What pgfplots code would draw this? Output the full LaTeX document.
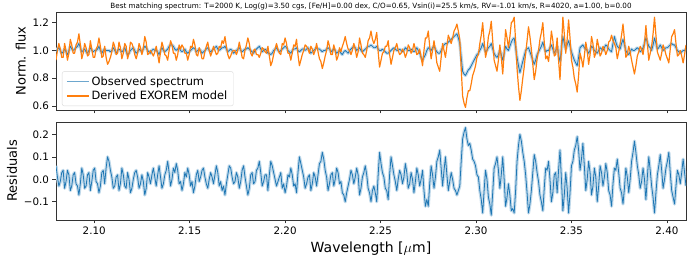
\documentclass[border=0pt]{standalone}
\usepackage{pgfplots}
\usepackage{pgfplotstable}
\pgfplotsset{compat=1.18}
\usepackage{fontspec}
\setmainfont{DejaVu Sans}
\definecolor{C0}{RGB}{31,119,180}
\definecolor{C1}{RGB}{255,127,14}
\pgfplotstableread{
x o r m
2.08000 0.99 0.06 0.93
2.08075 1.01 0.01 1.00
2.08150 1.02 -0.03 1.05
2.08225 1.00 -0.01 1.01
2.08300 0.98 0.03 0.95
2.08375 0.99 0.04 0.95
2.08450 1.01 -0.04 1.05
2.08525 0.99 -0.01 1.00
2.08600 0.97 0.04 0.93
2.08675 1.00 0.02 0.98
2.08750 1.03 -0.05 1.08
2.08825 1.01 -0.03 1.04
2.08900 1.00 0.02 0.98
2.08975 1.01 0.03 0.98
2.09050 1.02 -0.02 1.04
2.09125 1.03 -0.03 1.06
2.09200 1.05 -0.07 1.12
2.09275 1.02 -0.02 1.04
2.09350 0.99 0.05 0.94
2.09425 1.00 0.02 0.98
2.09500 1.01 -0.04 1.05
2.09575 0.99 -0.03 1.02
2.09650 0.98 0.02 0.96
2.09725 1.00 0.03 0.97
2.09800 1.02 -0.05 1.07
2.09875 1.00 -0.01 1.01
2.09950 0.99 0.04 0.95
2.10025 1.00 0.05 0.95
2.10100 1.00 -0.01 1.01
2.10175 1.01 -0.02 1.03
2.10250 1.03 -0.06 1.09
2.10325 1.00 -0.03 1.03
2.10400 0.98 0.03 0.95
2.10475 1.00 0.04 0.96
2.10550 1.01 -0.02 1.03
2.10625 1.00 0.05 0.95
2.10700 1.00 0.10 0.90
2.10775 1.00 0.08 0.92
2.10850 0.99 0.04 0.95
2.10925 1.00 0.01 0.99
2.11000 1.02 -0.04 1.06
2.11075 1.00 -0.03 1.03
2.11150 0.98 0.01 0.97
2.11225 1.00 0.02 0.98
2.11300 1.01 -0.05 1.06
2.11375 1.00 -0.02 1.02
2.11450 0.99 0.05 0.94
2.11525 1.00 0.02 0.98
2.11600 1.02 -0.03 1.05
2.11675 0.99 -0.04 1.03
2.11750 0.97 0.03 0.94
2.11825 0.98 0.00 0.98
2.11900 1.00 -0.06 1.06
2.11975 1.01 -0.04 1.05
2.12050 1.02 0.00 1.02
2.12125 1.00 0.03 0.97
2.12200 0.98 0.04 0.94
2.12275 0.99 0.01 0.98
2.12350 1.01 -0.04 1.05
2.12425 1.00 -0.02 1.02
2.12500 0.99 0.02 0.97
2.12575 1.01 -0.01 1.02
2.12650 1.03 -0.07 1.10
2.12725 1.02 -0.04 1.06
2.12800 1.00 0.03 0.97
2.12875 0.99 0.01 0.98
2.12950 0.98 -0.02 1.00
2.13025 1.00 0.02 0.98
2.13100 1.01 0.05 0.96
2.13175 1.00 0.01 0.99
2.13250 1.00 -0.03 1.03
2.13325 0.99 0.02 0.97
2.13400 0.97 0.06 0.91
2.13475 1.00 0.01 0.99
2.13550 1.02 -0.04 1.06
2.13625 1.00 -0.02 1.02
2.13700 0.99 0.02 0.97
2.13775 1.00 0.04 0.96
2.13850 1.01 0.08 0.93
2.13925 1.03 0.03 1.00
2.14000 1.04 -0.03 1.07
2.14075 1.04 0.00 1.04
2.14150 1.03 0.05 0.98
2.14225 1.01 0.03 0.98
2.14300 1.00 0.07 0.93
2.14375 1.01 0.04 0.97
2.14450 1.02 -0.02 1.04
2.14525 1.00 -0.01 1.01
2.14600 0.99 -0.05 1.04
2.14675 1.00 -0.02 1.02
2.14750 1.01 0.03 0.98
2.14825 0.99 0.01 0.98
2.14900 0.98 0.05 0.93
2.14975 0.99 0.02 0.97
2.15050 1.00 -0.03 1.03
2.15125 1.01 -0.01 1.02
2.15200 1.02 -0.06 1.08
2.15275 1.01 -0.03 1.04
2.15350 0.99 0.02 0.97
2.15425 1.00 0.04 0.96
2.15500 1.01 -0.01 1.02
2.15575 1.00 0.01 0.99
2.15650 0.98 0.04 0.94
2.15725 0.99 0.05 0.94
2.15800 1.00 0.01 0.99
2.15875 1.01 -0.02 1.03
2.15950 1.02 -0.04 1.06
2.16025 1.00 0.00 1.00
2.16100 0.99 0.03 0.96
2.16175 1.00 0.01 0.99
2.16250 1.01 -0.02 1.03
2.16325 1.02 0.02 1.00
2.16400 1.03 0.06 0.97
2.16475 1.01 0.03 0.98
2.16550 1.00 -0.03 1.03
2.16625 1.01 -0.01 1.02
2.16700 1.02 -0.05 1.07
2.16775 1.02 -0.03 1.05
2.16850 1.03 -0.07 1.10
2.16925 1.01 -0.02 1.03
2.17000 0.99 0.02 0.97
2.17075 1.00 0.06 0.94
2.17150 1.01 0.05 0.96
2.17225 1.00 0.01 0.99
2.17300 0.98 -0.02 1.00
2.17375 0.99 -0.01 1.00
2.17450 1.00 0.03 0.97
2.17525 1.01 0.01 1.00
2.17600 1.02 -0.04 1.06
2.17675 1.00 -0.01 1.01
2.17750 0.99 0.04 0.95
2.17825 1.00 0.06 0.94
2.17900 1.01 0.01 1.00
2.17975 1.01 -0.03 1.04
2.18050 1.02 -0.07 1.09
2.18125 1.01 -0.04 1.05
2.18200 1.00 0.02 0.98
2.18275 0.99 0.03 0.96
2.18350 0.98 -0.02 1.00
2.18425 1.00 -0.01 1.01
2.18500 1.01 0.04 0.97
2.18575 1.02 0.05 0.97
2.18650 1.03 0.08 0.95
2.18725 1.01 0.03 0.98
2.18800 0.99 -0.03 1.02
2.18875 1.00 -0.01 1.01
2.18950 1.01 0.02 0.99
2.19025 1.00 0.02 0.98
2.19100 0.98 -0.05 1.03
2.19175 0.98 0.02 0.96
2.19250 0.97 0.08 0.89
2.19325 0.98 0.06 0.92
2.19400 1.00 0.03 0.97
2.19475 1.01 0.00 1.01
2.19550 1.02 -0.03 1.05
2.19625 1.00 -0.01 1.01
2.19700 0.99 0.01 0.98
2.19775 1.00 0.03 0.97
2.19850 1.01 -0.04 1.05
2.19925 1.02 -0.02 1.04
2.20000 1.03 -0.06 1.09
2.20075 1.02 -0.03 1.05
2.20150 1.00 0.02 0.98
2.20225 0.99 0.01 0.98
2.20300 0.98 0.05 0.93
2.20375 1.00 0.02 0.98
2.20450 1.01 -0.03 1.04
2.20525 1.01 -0.02 1.03
2.20600 1.02 -0.06 1.08
2.20675 1.00 0.03 0.97
2.20750 0.99 0.10 0.89
2.20825 1.00 0.07 0.93
2.20900 1.01 0.04 0.97
2.20975 1.01 0.01 1.00
2.21050 1.00 -0.04 1.04
2.21125 1.01 -0.02 1.03
2.21200 1.02 0.01 1.01
2.21275 1.00 0.02 0.98
2.21350 0.98 -0.05 1.03
2.21425 0.99 -0.02 1.01
2.21500 1.00 0.03 0.97
2.21575 1.01 0.01 1.00
2.21650 1.02 -0.03 1.05
2.21725 1.01 0.02 0.99
2.21800 1.01 0.07 0.94
2.21875 1.00 0.08 0.92
2.21950 0.99 0.12 0.87
2.22025 1.00 0.09 0.91
2.22100 1.00 0.04 0.96
2.22175 1.01 0.01 1.00
2.22250 1.02 -0.05 1.07
2.22325 1.01 -0.02 1.03
2.22400 0.99 0.02 0.97
2.22475 1.00 0.03 0.97
2.22550 1.01 -0.03 1.04
2.22625 1.00 0.00 1.00
2.22700 0.98 0.05 0.93
2.22775 0.99 0.03 0.96
2.22850 1.00 -0.02 1.02
2.22925 0.98 -0.01 0.99
2.23000 0.97 -0.06 1.03
2.23075 0.99 -0.07 1.06
2.23150 1.00 -0.10 1.10
2.23225 0.99 -0.06 1.05
2.23300 0.98 -0.03 1.01
2.23375 1.00 0.00 1.00
2.23450 1.01 0.04 0.97
2.23525 1.02 0.02 1.00
2.23600 1.03 -0.02 1.05
2.23675 1.02 0.01 1.01
2.23750 1.00 0.05 0.95
2.23825 1.01 0.02 0.99
2.23900 1.02 -0.07 1.09
2.23975 1.00 -0.04 1.04
2.24050 0.99 0.01 0.98
2.24125 1.00 0.03 0.97
2.24200 1.01 0.06 0.95
2.24275 1.02 0.02 1.00
2.24350 1.03 -0.04 1.07
2.24425 1.03 -0.06 1.09
2.24500 1.04 -0.10 1.14
2.24575 1.03 -0.05 1.08
2.24650 1.02 -0.03 1.05
2.24725 1.02 -0.06 1.08
2.24800 1.03 -0.10 1.13
2.24875 1.01 0.02 0.99
2.24950 1.00 0.12 0.88
2.25025 1.00 0.07 0.93
2.25100 1.01 0.03 0.98
2.25175 1.00 0.01 0.99
2.25250 0.99 -0.04 1.03
2.25325 0.98 -0.05 1.03
2.25400 0.98 -0.09 1.07
2.25475 0.99 0.02 0.97
2.25550 1.00 0.10 0.90
2.25625 1.01 0.06 0.95
2.25700 1.02 0.02 1.00
2.25775 1.01 -0.01 1.02
2.25850 1.00 -0.05 1.05
2.25925 1.00 0.00 1.00
2.26000 1.01 0.04 0.97
2.26075 1.00 0.02 0.98
2.26150 0.99 -0.02 1.01
2.26225 1.00 0.01 0.99
2.26300 1.02 0.07 0.95
2.26375 1.01 0.03 0.98
2.26450 1.00 -0.04 1.04
2.26525 1.00 -0.02 1.02
2.26600 1.01 0.03 0.98
2.26675 1.00 0.00 1.00
2.26750 0.99 -0.06 1.05
2.26825 1.00 -0.01 1.01
2.26900 1.02 0.05 0.97
2.26975 1.00 0.02 0.98
2.27050 0.98 -0.03 1.01
2.27125 0.95 0.00 0.95
2.27200 0.93 0.04 0.89
2.27275 0.95 -0.05 1.00
2.27350 0.97 -0.12 1.09
2.27425 1.00 -0.09 1.09
2.27500 1.02 -0.12 1.14
2.27575 1.01 -0.02 1.03
2.27650 1.00 0.06 0.94
2.27725 1.02 0.02 1.00
2.27800 1.03 -0.04 1.07
2.27875 1.01 0.01 1.00
2.27950 0.99 0.08 0.91
2.28025 0.98 0.10 0.88
2.28100 0.98 0.13 0.85
2.28175 1.00 0.05 0.95
2.28250 1.02 -0.03 1.05
2.28325 1.04 0.04 1.00
2.28400 1.05 0.10 0.95
2.28475 1.05 0.02 1.03
2.28550 1.06 -0.05 1.11
2.28625 1.07 -0.01 1.08
2.28700 1.08 0.03 1.05
2.28775 1.09 0.00 1.09
2.28850 1.10 -0.04 1.14
2.28925 1.11 -0.05 1.16
2.29000 1.12 -0.07 1.19
2.29075 1.09 -0.05 1.14
2.29150 1.05 -0.03 1.08
2.29225 0.95 0.08 0.87
2.29300 0.85 0.18 0.67
2.29375 0.83 0.21 0.62
2.29450 0.82 0.23 0.59
2.29525 0.84 0.18 0.66
2.29600 0.86 0.15 0.71
2.29675 0.87 0.16 0.71
2.29750 0.89 0.13 0.76
2.29825 0.91 0.09 0.82
2.29900 0.93 0.08 0.85
2.29975 0.95 0.06 0.89
2.30050 0.97 0.02 0.95
2.30125 0.98 0.01 0.97
2.30200 1.00 -0.05 1.05
2.30275 1.02 -0.09 1.11
2.30350 1.05 -0.15 1.20
2.30425 1.02 -0.05 1.07
2.30500 0.99 0.04 0.95
2.30575 1.00 0.00 1.00
2.30650 1.02 -0.08 1.10
2.30725 1.03 -0.11 1.14
2.30800 1.05 -0.16 1.21
2.30875 1.01 -0.06 1.07
2.30950 0.98 0.05 0.93
2.31025 0.96 0.07 0.89
2.31100 0.95 0.10 0.85
2.31175 0.97 0.04 0.93
2.31250 1.00 -0.04 1.04
2.31325 0.97 0.02 0.95
2.31400 0.93 0.10 0.83
2.31475 0.98 0.00 0.98
2.31550 1.03 -0.12 1.15
2.31625 1.01 -0.08 1.09
2.31700 1.00 -0.02 1.02
2.31775 1.03 -0.07 1.10
2.31850 1.06 -0.14 1.20
2.31925 1.08 -0.13 1.21
2.32000 1.09 -0.15 1.24
2.32075 1.02 -0.05 1.07
2.32150 0.95 0.08 0.87
2.32225 0.89 0.15 0.74
2.32300 0.84 0.20 0.64
2.32375 0.88 0.17 0.71
2.32450 0.92 0.12 0.80
2.32525 0.96 0.08 0.88
2.32600 1.00 0.02 0.98
2.32675 1.01 -0.06 1.07
2.32750 1.02 -0.15 1.17
2.32825 0.99 -0.11 1.10
2.32900 0.96 -0.05 1.01
2.32975 0.93 0.03 0.90
2.33050 0.90 0.11 0.79
2.33125 0.93 0.08 0.85
2.33200 0.97 0.03 0.94
2.33275 0.99 -0.01 1.00
2.33350 1.01 -0.07 1.08
2.33425 1.03 -0.10 1.13
2.33500 1.06 -0.14 1.20
2.33575 1.02 -0.04 1.06
2.33650 0.99 0.05 0.94
2.33725 1.00 0.04 0.96
2.33800 1.00 0.08 0.92
2.33875 1.02 0.00 1.02
2.33950 1.04 -0.10 1.14
2.34025 1.01 -0.06 1.07
2.34100 0.98 0.02 0.96
2.34175 1.00 0.03 0.97
2.34250 1.03 -0.06 1.09
2.34325 0.97 0.04 0.93
2.34400 0.92 0.13 0.79
2.34475 1.01 0.00 1.01
2.34550 1.10 -0.14 1.24
2.34625 1.05 -0.07 1.12
2.34700 1.01 0.03 0.98
2.34775 1.04 -0.04 1.08
2.34850 1.07 -0.15 1.22
2.34925 1.03 -0.06 1.09
2.35000 0.99 0.06 0.93
2.35075 0.96 0.08 0.88
2.35150 0.93 0.13 0.80
2.35225 0.91 0.15 0.76
2.35300 0.89 0.19 0.70
2.35375 0.95 0.13 0.82
2.35450 1.02 0.04 0.98
2.35525 1.03 0.09 0.94
2.35600 1.04 0.16 0.88
2.35675 1.02 0.06 0.96
2.35750 1.01 -0.05 1.06
2.35825 1.00 0.00 1.00
2.35900 0.98 0.08 0.90
2.35975 1.00 0.03 0.97
2.36050 1.03 -0.07 1.10
2.36125 1.02 -0.03 1.05
2.36200 1.00 0.05 0.95
2.36275 0.99 0.01 0.98
2.36350 0.98 -0.10 1.08
2.36425 1.00 -0.03 1.03
2.36500 1.02 0.06 0.96
2.36575 1.01 0.03 0.98
2.36650 1.00 -0.03 1.03
2.36725 1.02 0.01 1.01
2.36800 1.04 0.07 0.97
2.36875 1.03 0.03 1.00
2.36950 1.01 -0.05 1.06
2.37025 1.00 -0.07 1.07
2.37100 0.99 -0.12 1.11
2.37175 1.05 -0.02 1.07
2.37250 1.10 0.05 1.05
2.37325 1.06 0.04 1.02
2.37400 1.03 0.09 0.94
2.37475 1.02 0.03 0.99
2.37550 1.01 -0.04 1.05
2.37625 1.05 -0.06 1.11
2.37700 1.08 -0.11 1.19
2.37775 1.04 -0.04 1.08
2.37850 1.00 0.05 0.95
2.37925 0.98 0.01 0.97
2.38000 0.97 -0.06 1.03
2.38075 0.99 0.00 0.99
2.38150 1.01 0.08 0.93
2.38225 1.00 0.12 0.88
2.38300 1.00 0.17 0.83
2.38375 1.01 0.12 0.89
2.38450 1.02 0.06 0.96
2.38525 1.01 0.02 0.99
2.38600 0.99 -0.04 1.03
2.38675 1.00 -0.01 1.01
2.38750 1.02 0.05 0.97
2.38825 1.05 0.00 1.05
2.38900 1.09 -0.09 1.18
2.38975 1.06 0.01 1.05
2.39050 1.03 0.10 0.93
2.39125 1.02 0.04 0.98
2.39200 1.00 -0.03 1.03
2.39275 1.04 -0.08 1.12
2.39350 1.09 -0.15 1.24
2.39425 1.05 -0.06 1.11
2.39500 1.01 0.02 0.99
2.39575 1.02 0.06 0.96
2.39650 1.04 0.11 0.93
2.39725 1.02 0.04 0.98
2.39800 1.00 -0.04 1.04
2.39875 1.01 0.00 1.01
2.39950 1.02 0.05 0.97
2.40025 1.02 0.08 0.94
2.40100 1.03 0.12 0.91
2.40175 1.04 0.03 1.01
2.40250 1.05 -0.05 1.10
2.40325 1.04 -0.08 1.12
2.40400 1.04 -0.11 1.15
2.40475 1.02 -0.03 1.05
2.40550 1.00 0.04 0.96
2.40625 0.99 0.02 0.97
2.40700 0.98 -0.02 1.00
2.40775 0.99 0.03 0.96
2.40850 1.00 0.09 0.91
2.40925 1.00 0.03 0.97
2.41000 1.01 -0.03 1.04
}\spec
\pgfplotsset{
  every axis/.append style={
    scale only axis, width=630pt, height=98pt,
    xmin=2.08, xmax=2.41,
    tick pos=left, tick align=outside,
    major tick length=3.5pt,
    every tick/.style={black!80, line width=0.6pt},
    axis line style={black!80, line width=0.6pt},
    tick label style={font=\fontsize{10.3}{12}\selectfont},
    label style={font=\fontsize{13}{15}\selectfont},
    xtick={2.10,2.15,2.20,2.25,2.30,2.35,2.40},
  },
}
\begin{document}
\begin{tikzpicture}
\path[use as bounding box] (0,0) rectangle (691pt,-261pt);
\begin{axis}[
  at={(56pt,-110pt)}, anchor=south west,
  ymin=0.571, ymax=1.277,
  xticklabels={},
  ytick={0.6,0.8,1.0,1.2}, yticklabels={0.6,0.8,1.0,1.2},
  ylabel={Norm. flux},
  every axis title shift=0pt,
  title={Best matching spectrum: T=2000 K, Log(g)=3.50 cgs, [Fe/H]=0.00 dex, C/O=0.65, Vsin(i)=25.5 km/s, RV=-1.01 km/s, R=4020, a=1.00, b=0.00},
  title style={font=\fontsize{7.2}{8}\selectfont, at={(0.5,1)}, anchor=south, inner sep=0pt, yshift=2pt},
  legend style={at={(0.0095,0.04)}, anchor=south west, draw=black!15, rounded corners=2pt,
    fill=white, fill opacity=0.8, text opacity=1, font=\fontsize{11.4}{13.5}\selectfont,
    inner xsep=4pt, inner ysep=3pt, row sep=0pt},
  legend cell align=left,
  legend image code/.code={\draw[#1] (0pt,0pt) -- (22pt,0pt);},
]
\addlegendimage{C0!65, line width=1.5pt}
\addlegendentry{Observed spectrum}
\addlegendimage{C1, line width=1.5pt}
\addlegendentry{Derived EXOREM model}
\addplot[C0!28, line width=3.2pt, line join=round, forget plot] table[x=x, y=o]{\spec};
\addplot[C0, line width=0.8pt, line join=round, forget plot] table[x=x, y=o]{\spec};
\addplot[C1, line width=1.2pt, line join=round, forget plot] table[x=x, y=m]{\spec};
\end{axis}
\begin{axis}[
  at={(56pt,-220pt)}, anchor=south west,
  ymin=-0.181, ymax=0.255,
  xticklabels={2.10,2.15,2.20,2.25,2.30,2.35,2.40},
  ytick={-0.1,0,0.1,0.2}, yticklabels={−0.1,0.0,0.1,0.2},
  ylabel={Residuals},
  xlabel={Wavelength [$\mu$m]},
  xlabel style={font=\fontsize{14}{16}\selectfont},
]
\addplot[C0!28, line width=3.2pt, line join=round] table[x=x, y=r]{\spec};
\addplot[C0, line width=0.8pt, line join=round] table[x=x, y=r]{\spec};
\end{axis}
\end{tikzpicture}
\end{document}
